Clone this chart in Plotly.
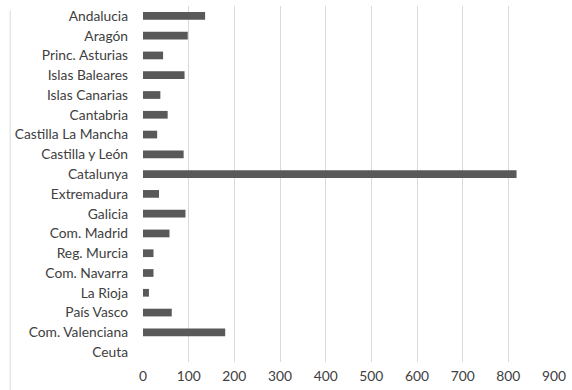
import plotly.graph_objects as go

regions = [
    "Andalucia", "Aragón", "Princ. Asturias", "Islas Baleares", "Islas Canarias",
    "Cantabria", "Castilla La Mancha", "Castilla y León", "Catalunya", "Extremadura",
    "Galicia", "Com. Madrid", "Reg. Murcia", "Com. Navarra", "La Rioja",
    "País Vasco", "Com. Valenciana", "Ceuta",
]
values = [136, 98, 44, 91, 38, 54, 31, 89, 818, 35, 93, 58, 23, 23, 13, 63, 180, 0]
x_ticks = [0, 100, 200, 300, 400, 500, 600, 700, 800, 900]

fig = go.Figure(
    go.Bar(
        x=values,
        y=regions,
        orientation="h",
        marker=dict(color="#595959", line=dict(width=0)),
    )
)

fig.update_layout(
    width=572,
    height=390,
    margin=dict(l=143, r=12, t=6, b=27),
    paper_bgcolor="white",
    plot_bgcolor="white",
    bargap=0.61,
    showlegend=False,
    font=dict(family="Lato", size=13.8, color="#404040"),
    xaxis=dict(
        range=[0, 900],
        tickvals=x_ticks,
        showgrid=True,
        gridcolor="#d9d9d9",
        gridwidth=1,
        zeroline=False,
        showline=False,
        ticks="",
        ticklabelstandoff=4,
        ticklabeloverflow="allow",
        fixedrange=True,
    ),
    yaxis=dict(
        categoryorder="array",
        categoryarray=regions[::-1],
        showgrid=False,
        showline=False,
        ticks="",
        ticklabelstandoff=14,
        fixedrange=True,
    ),
    shapes=[
        # thin frame line on the far left edge
        dict(
            type="line",
            xref="paper",
            yref="paper",
            x0=-0.323,
            x1=-0.323,
            y0=-0.08,
            y1=0.988,
            line=dict(color="#e6e6e6", width=1.5),
        )
    ],
)

fig.write_html("out.html")
